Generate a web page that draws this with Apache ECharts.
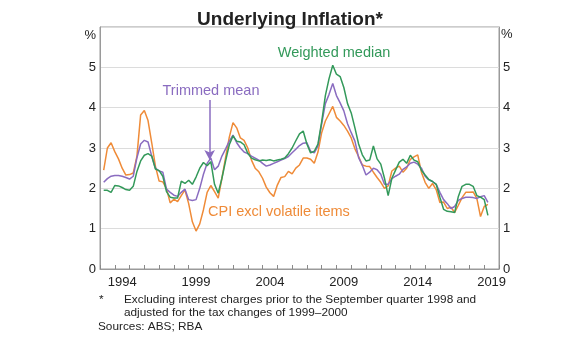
<!DOCTYPE html>
<html><head><meta charset="utf-8">
<script src="https://cdn.jsdelivr.net/npm/echarts@6/dist/echarts.min.js"></script>
<style>html,body{margin:0;padding:0;background:#fff}#c{width:580px;height:352px}</style>
</head><body><div id="c"></div>
<script>
// ---- data ----
const categories = ['1993','1994','1995','1996','1997','1998','1999','2000','2001','2002','2003','2004','2005','2006','2007','2008','2009','2010','2011','2012','2013','2014','2015','2016','2017','2018','2019'];
const labelYears = ['1994','1999','2004','2009','2014','2019'];
const yTicks = [0, 1, 2, 3, 4, 5];
const firstQuarterEnd = 1993.25; // March quarter 1993, quarterly data
const cpiExclVolatile = [
  2.45, 3.0, 3.13, 2.91, 2.73, 2.5, 2.33, 2.34, 2.38, 2.8,
  3.82, 3.93, 3.68, 3.13, 2.55, 2.18, 2.16, 1.99, 1.64, 1.73,
  1.67, 1.82, 1.96, 1.62, 1.17, 0.94, 1.12, 1.47, 1.9, 2.07,
  1.92, 1.76, 2.25, 2.77, 3.27, 3.63, 3.5, 3.25, 3.19, 3.0,
  2.7, 2.5, 2.41, 2.25, 2.03, 1.89, 1.8, 2.08, 2.27, 2.29,
  2.42, 2.36, 2.5, 2.58, 2.75, 2.75, 2.72, 2.62, 2.9, 3.38,
  3.67, 3.85, 4.03, 3.76, 3.67, 3.56, 3.42, 3.25, 2.98, 2.79,
  2.58, 2.55, 2.54, 2.4, 2.27, 2.15, 2.0, 2.06, 2.43, 2.5,
  2.55, 2.4, 2.5, 2.72, 2.78, 2.83, 2.4, 2.15, 2.0, 2.12,
  1.97, 1.65, 1.66, 1.5, 1.53, 1.4, 1.58, 1.77, 1.9, 1.9,
  1.91, 1.75, 1.3, 1.55, 1.6
];
const trimmedMean = [
  2.15, 2.24, 2.3, 2.32, 2.32, 2.3, 2.27, 2.23, 2.3, 2.76,
  3.1, 3.19, 3.15, 2.8, 2.5, 2.43, 2.4, 1.98, 1.9, 1.83,
  1.8, 1.9, 1.98, 1.72, 1.7, 1.72, 2.0, 2.35, 2.62, 2.75,
  2.46, 2.55, 2.8, 2.98, 3.17, 3.32, 3.13, 3.0, 2.9, 2.86,
  2.8, 2.75, 2.7, 2.62, 2.55, 2.58, 2.62, 2.66, 2.7, 2.74,
  2.79, 2.88, 2.97, 3.06, 3.12, 3.13, 2.92, 2.88, 3.05, 3.6,
  4.1, 4.33, 4.6, 4.3, 4.12, 3.92, 3.6, 3.38, 3.17, 2.76,
  2.57, 2.33, 2.4, 2.5, 2.46, 2.35, 2.1, 2.1, 2.24, 2.3,
  2.35, 2.47, 2.53, 2.62, 2.65, 2.6, 2.5, 2.3, 2.21, 2.17,
  2.1, 1.9, 1.72, 1.62, 1.5, 1.55, 1.7, 1.75, 1.78, 1.78,
  1.77, 1.75, 1.79, 1.82, 1.65
];
const weightedMedian = [
  1.95, 1.95, 1.9, 2.07, 2.06, 2.02, 1.97, 1.95, 2.05, 2.42,
  2.68, 2.82, 2.86, 2.8, 2.48, 2.44, 2.3, 1.92, 1.78, 1.76,
  1.76, 2.18, 2.12, 2.2, 2.1, 2.28, 2.5, 2.64, 2.56, 2.66,
  2.1, 1.88, 2.25, 2.68, 3.08, 3.3, 3.17, 3.15, 3.08, 2.87,
  2.75, 2.71, 2.68, 2.7, 2.69, 2.71, 2.68, 2.7, 2.72, 2.75,
  2.86, 3.0, 3.18, 3.35, 3.42, 3.1, 2.88, 2.92, 3.1, 3.65,
  4.3, 4.72, 5.05, 4.83, 4.77, 4.5, 4.1, 3.87, 3.5, 3.1,
  2.83, 2.68, 2.7, 3.05, 2.73, 2.6, 2.25, 1.82, 2.25, 2.45,
  2.65, 2.72, 2.62, 2.82, 2.7, 2.66, 2.45, 2.33, 2.22, 2.17,
  2.1, 1.78, 1.48, 1.43, 1.42, 1.4, 1.8, 2.05, 2.1, 2.1,
  2.05, 1.82, 1.78, 1.72, 1.33
];
const arrowX = 2000.42, arrowTop = 4.19, arrowTip = 2.7;

// ---- styling ----
const GREEN = '#33995a', PURPLE = '#8a6cc0', ORANGE = '#ef8b38';
const FONT = "'Liberation Sans', Arial, sans-serif";
const quarterEnds = cpiExclVolatile.map((_, i) => firstQuarterEnd + i * 0.25);
const pair = arr => arr.map((v, i) => [quarterEnds[i], v]);

const chart = echarts.init(document.getElementById('c'), null, {renderer: 'canvas'});
const lineSeries = (name, data, color, extra) => Object.assign({
  name, type: 'line', xAxisIndex: 0, yAxisIndex: 0, data: pair(data),
  showSymbol: false, symbol: 'none', smooth: false,
  lineStyle: {color, width: 1.5}, itemStyle: {color}, silent: true, animation: false
}, extra || {});

chart.setOption({
  animation: false,
  backgroundColor: '#fff',
  title: {
    text: 'Underlying Inflation*', left: 'center', top: 5,
    textStyle: {fontFamily: FONT, fontSize: 19, fontWeight: 'bold', color: '#222'}
  },
  grid: {left: 100, right: 81, top: 27, bottom: 83, show: true, borderColor: '#9a9a9a', borderWidth: 1, backgroundColor: 'transparent'},
  xAxis: [
    {type: 'value', min: 1993, max: 2020, show: false},
    {type: 'category', data: categories, boundaryGap: true, position: 'bottom',
     axisLine: {show: true, lineStyle: {color: '#9a9a9a', width: 1}},
     axisTick: {show: true, inside: true, length: 4, interval: 0, lineStyle: {color: '#8a8a8a'}},
     axisLabel: {show: true, margin: 7, color: '#222', fontFamily: FONT, fontSize: 13,
       interval: (idx, val) => labelYears.indexOf(String(val)) >= 0},
     splitLine: {show: false}}
  ],
  yAxis: [
    {type: 'value', min: 0, max: 6, interval: 1, position: 'left',
     axisLine: {show: true, lineStyle: {color: '#9a9a9a'}}, axisTick: {show: false},
     axisLabel: {margin: 4, color: '#222', fontFamily: FONT, fontSize: 13,
       formatter: v => yTicks.indexOf(v) >= 0 ? String(v) : ''},
     splitLine: {show: true, lineStyle: {color: '#dcdcdc', width: 1}}},
    {type: 'value', min: 0, max: 6, interval: 1, position: 'right',
     axisLine: {show: true, lineStyle: {color: '#9a9a9a'}}, axisTick: {show: false},
     axisLabel: {margin: 4, color: '#222', fontFamily: FONT, fontSize: 13,
       formatter: v => yTicks.indexOf(v) >= 0 ? String(v) : ''},
     splitLine: {show: false}}
  ],
  series: [
    lineSeries('CPI excl volatile items', cpiExclVolatile, ORANGE),
    lineSeries('Trimmed mean', trimmedMean, PURPLE, {
      markLine: {
        silent: true, animation: false, symbol: ['none', 'arrow'], symbolSize: [8, 10],
        lineStyle: {color: PURPLE, width: 1.5, type: 'solid'}, label: {show: false},
        data: [[{coord: [arrowX, arrowTop]}, {coord: [arrowX, arrowTip]}]]
      }
    }),
    lineSeries('Weighted median', weightedMedian, GREEN)
  ],
  graphic: [
    {type: 'text', x: 96, y: 35, style: {text: '%', font: `13px ${FONT}`, fill: '#222', textAlign: 'right', textVerticalAlign: 'middle'}},
    {type: 'text', x: 501, y: 34, style: {text: '%', font: `13px ${FONT}`, fill: '#222', textAlign: 'left', textVerticalAlign: 'middle'}},
    {type: 'text', x: 334, y: 53, style: {text: 'Weighted median', font: `14.5px ${FONT}`, fill: GREEN, textAlign: 'center', textVerticalAlign: 'middle'}},
    {type: 'text', x: 211, y: 91, style: {text: 'Trimmed mean', font: `14.5px ${FONT}`, fill: PURPLE, textAlign: 'center', textVerticalAlign: 'middle'}},
    {type: 'text', x: 208, y: 212, style: {text: 'CPI excl volatile items', font: `14.5px ${FONT}`, fill: ORANGE, textAlign: 'left', textVerticalAlign: 'middle'}},
    {type: 'text', x: 99, y: 300, style: {text: '*', font: `11.8px ${FONT}`, fill: '#222', textAlign: 'left', textVerticalAlign: 'middle'}},
    {type: 'text', x: 124, y: 300, style: {text: 'Excluding interest charges prior to the September quarter 1998 and', font: `11.8px ${FONT}`, fill: '#222', textAlign: 'left', textVerticalAlign: 'middle'}},
    {type: 'text', x: 124, y: 312.5, style: {text: 'adjusted for the tax changes of 1999\u20132000', font: `11.8px ${FONT}`, fill: '#222', textAlign: 'left', textVerticalAlign: 'middle'}},
    {type: 'text', x: 98, y: 327, style: {text: 'Sources: ABS; RBA', font: `11.8px ${FONT}`, fill: '#222', textAlign: 'left', textVerticalAlign: 'middle'}}
  ]
});
</script></body></html>
